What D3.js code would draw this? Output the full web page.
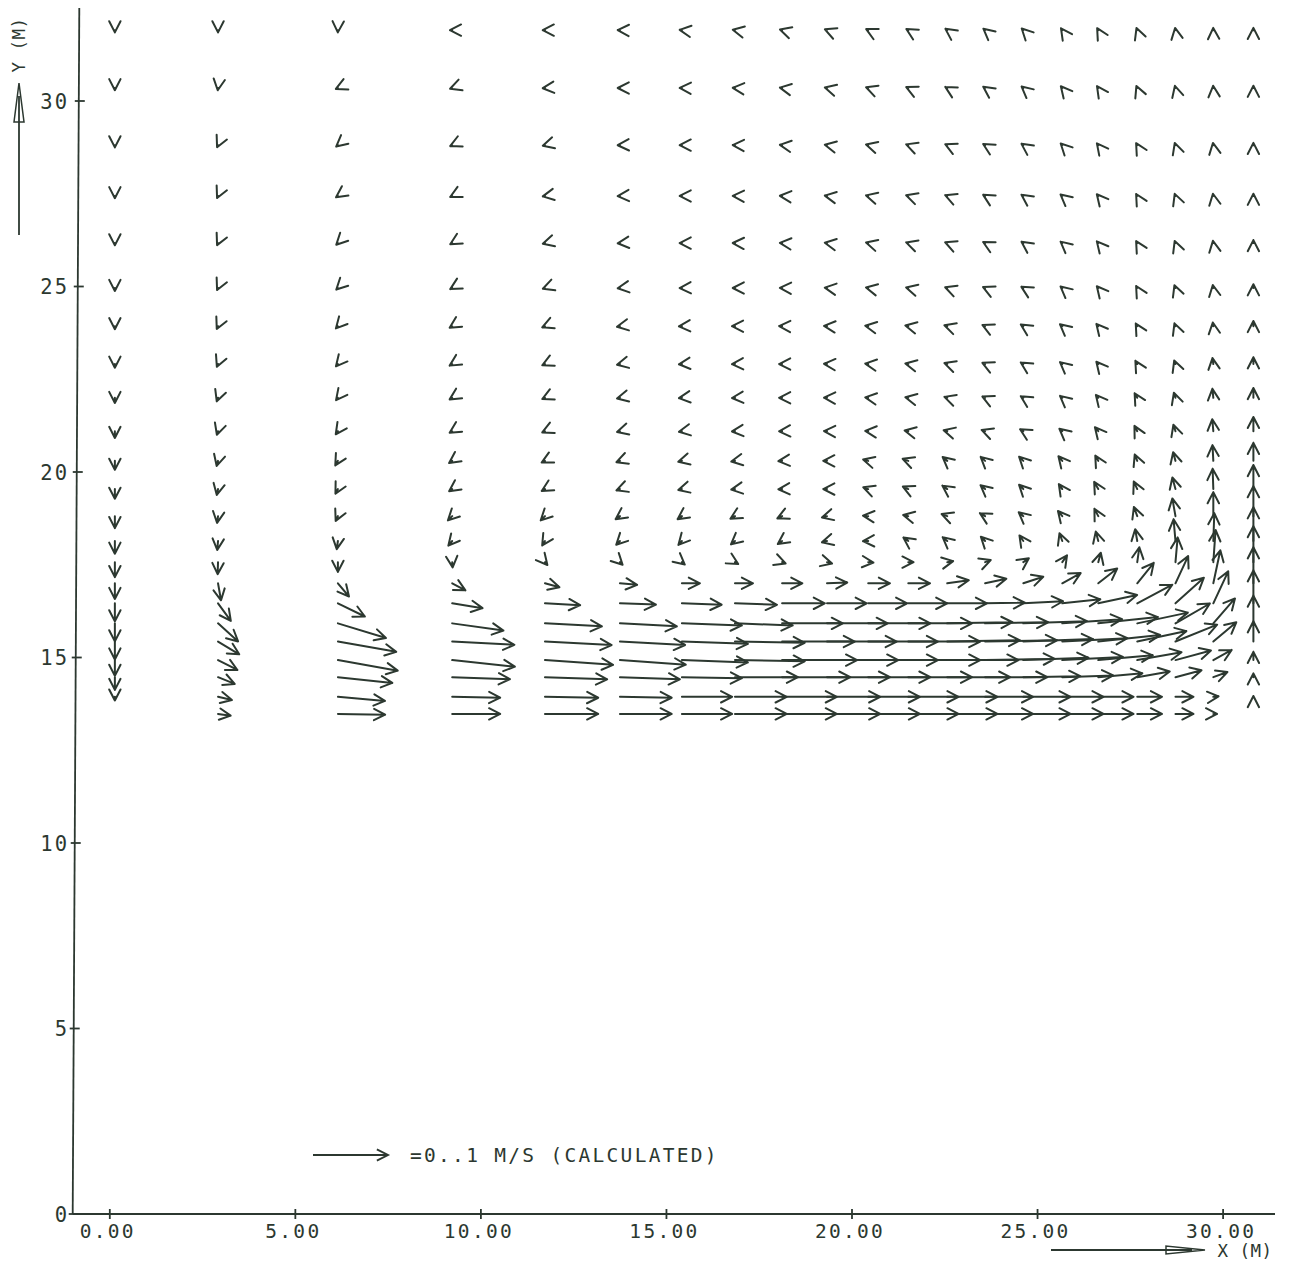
<!DOCTYPE html>
<html><head><meta charset="utf-8">
<script src="https://cdn.jsdelivr.net/npm/d3@7"></script>
<style>body{margin:0;background:#fff} svg{display:block}</style>
</head><body>
<svg id="chart" width="1290" height="1264"></svg>
<script>
// ---------- data ----------
const xTicks = [0, 5, 10, 15, 20, 25, 30];
const xTickLabels = ["0.00", "5.00", "10.00", "15.00", "20.00", "25.00", "30.00"];
const yTicks = [0, 5, 10, 15, 20, 25, 30];
const yTickLabels = ["0", "5", "10", "15", "20", "25", "30"];

// grid columns (m) and rows (m, top to bottom)
const xCols = [0.15, 2.93, 6.16, 9.24, 11.74, 13.76, 15.43, 16.86, 18.13, 19.34, 20.45,
               21.53, 22.58, 23.60, 24.63, 25.68, 26.65, 27.70, 28.73, 29.75, 30.83];
const yRows = [31.91, 30.35, 28.81, 27.44, 26.17, 24.96, 23.93, 22.91, 22.00, 21.10, 20.30,
               19.54, 18.81, 18.14, 17.57, 17.00, 16.46, 15.92, 15.43, 14.93, 14.47, 13.94, 13.48];

// flow direction (degrees, counter-clockwise from +x), one row per yRows entry
const direction = [
 [270,270,268,180,180,178,172,168,163,158,153,150,145,140,135,125,120,110,100, 92, 90],
 [270,262,205,200,185,180,178,175,170,165,160,155,150,145,140,130,125,112,105, 95, 90],
 [270,245,220,205,195,182,180,178,172,168,165,160,155,150,145,135,128,120,108,100, 90],
 [270,245,215,207,190,183,180,178,175,170,165,162,158,150,145,140,130,120,110,100, 90],
 [270,245,225,210,195,185,180,178,175,170,165,162,158,152,145,140,130,120,110,100, 90],
 [270,245,225,210,200,188,182,180,178,172,168,165,160,155,150,140,130,120,110,100, 90],
 [270,245,228,212,203,190,183,180,178,175,170,168,162,155,148,140,130,120,110, 98, 90],
 [270,247,230,212,205,192,185,182,180,176,172,168,162,155,148,140,130,120,110, 98, 90],
 [270,250,232,212,205,193,187,184,180,178,172,168,162,155,148,140,130,120,108, 96, 90],
 [270,252,235,212,205,195,190,185,182,178,175,168,165,160,150,140,130,118,108, 95, 90],
 [270,255,240,215,207,200,195,190,185,180,165,160,140,138,135,130,120,112,105, 93, 90],
 [270,258,242,215,210,200,195,188,183,180,160,155,145,140,135,125,120,115,105, 92, 90],
 [270,262,245,225,225,215,215,210,205,195,175,168,160,150,140,130,118,110,100, 90, 90],
 [270,265,262,230,238,225,228,220,215,195,182,145,140,135,125,110,105,100, 95, 88, 90],
 [270,268,270,275,310,315,320,330,340,345,355,  0, 10, 20, 35, 55, 75, 82, 85, 86, 90],
 [270,280,310,332,345,355,  0,  0,  0,  2,  0,  0,  8, 12, 18, 29, 38, 51, 65, 78, 90],
 [270,306,334,351,357,358,358,358,  0,  0,  0,  0,  0,  1,  3,  6, 12, 28, 42, 65, 90],
 [270,318,343,352,357,357,358,358,  0,  0,  0,  0,  1,  1,  2,  4,  6, 12, 30, 49, 90],
 [270,329,350,357,357,357,358,359,  0,  0,  0,  0,  1,  1,  2,  3,  6, 12, 22, 40, 90],
 [270,333,350,354,356,356,358,359,  0,  0,  0,  0,  0,  1,  2,  3,  5, 10, 15, 29, 90],
 [270,338,354,358,358,358,359,  0,  0,  0,  0,  0,  0,  0,  1,  2,  5, 10, 15, 20, 90],
 [270,347,355,359,359,359,  0,  0,  0,  0,  0,  0,  0,  0,  0,  0,  0,  0,  0,  5, 90],
 [null,352,359, 0,  0,  0,  0,  0,  0,  0,  0,  0,  0,  0,  0,  0,  0,  0,  0,  0, null]
];

// speed (m/s), same layout
const speed = [
 [.003,.003,.003,.003,.003,.003,.003,.003,.003,.003,.003,.003,.003,.003,.003,.003,.003,.003,.003,.003,.003],
 [.003,.003,.003,.003,.003,.003,.003,.003,.003,.003,.003,.003,.003,.003,.003,.003,.003,.003,.003,.003,.003],
 [.003,.003,.003,.003,.003,.003,.003,.003,.003,.003,.003,.003,.003,.003,.003,.003,.003,.003,.003,.003,.003],
 [.003,.003,.003,.003,.003,.003,.003,.003,.003,.003,.003,.003,.003,.003,.003,.003,.003,.003,.003,.003,.003],
 [.003,.003,.003,.003,.003,.003,.003,.003,.003,.003,.003,.003,.003,.003,.003,.003,.003,.003,.003,.003,.004],
 [.004,.003,.003,.003,.003,.003,.003,.003,.003,.003,.003,.003,.003,.003,.003,.003,.003,.003,.004,.004,.005],
 [.004,.004,.004,.004,.004,.004,.004,.004,.004,.004,.004,.004,.004,.004,.004,.004,.004,.004,.004,.005,.007],
 [.005,.004,.004,.004,.004,.004,.004,.004,.004,.004,.004,.004,.004,.004,.004,.004,.004,.005,.005,.008,.009],
 [.007,.005,.004,.004,.004,.004,.004,.004,.004,.004,.004,.004,.004,.004,.004,.004,.005,.007,.007,.012,.013],
 [.009,.005,.005,.004,.004,.004,.004,.004,.004,.004,.004,.005,.005,.005,.005,.005,.007,.008,.009,.016,.019],
 [.012,.007,.007,.005,.005,.005,.005,.005,.005,.005,.007,.008,.008,.008,.008,.008,.008,.009,.012,.021,.024],
 [.013,.008,.007,.005,.005,.005,.005,.005,.005,.005,.007,.008,.008,.008,.008,.008,.011,.011,.016,.027,.032],
 [.016,.009,.007,.008,.008,.007,.007,.007,.007,.007,.007,.007,.008,.008,.008,.009,.011,.013,.024,.032,.040],
 [.017,.012,.011,.008,.007,.007,.007,.007,.007,.007,.007,.008,.008,.008,.009,.011,.013,.016,.029,.037,.045],
 [.020,.016,.013,.007,.005,.005,.005,.005,.005,.007,.007,.007,.008,.008,.009,.011,.013,.020,.033,.043,.048],
 [.021,.023,.023,.020,.020,.023,.024,.024,.027,.027,.029,.029,.029,.029,.028,.028,.032,.035,.040,.045,.048],
 [.024,.029,.040,.041,.047,.048,.053,.056,.057,.053,.052,.052,.053,.053,.053,.051,.053,.053,.051,.047,.044],
 [.024,.036,.067,.069,.076,.076,.080,.077,.081,.081,.083,.085,.087,.084,.085,.080,.080,.069,.053,.044,.037],
 [.024,.033,.079,.083,.089,.087,.088,.093,.097,.093,.093,.096,.097,.096,.093,.087,.083,.067,.060,.040,.027],
 [.021,.029,.081,.084,.091,.088,.088,.093,.100,.095,.093,.096,.095,.093,.087,.081,.073,.060,.049,.028,.011],
 [.017,.024,.073,.077,.083,.080,.080,.084,.091,.084,.083,.085,.084,.083,.076,.068,.059,.044,.036,.020,.005],
 [.005,.019,.063,.064,.071,.069,.067,.069,.073,.071,.069,.067,.067,.064,.063,.055,.047,.033,.024,.007,.001],
 [null,.017,.063,.064,.071,.069,.067,.069,.073,.071,.069,.067,.067,.064,.063,.055,.047,.033,.024,.005,null]
];

const refSpeed = 0.1;
const legendText = "=0..1 M/S (CALCULATED)";
const xAxisTitle = "X (M)";
const yAxisTitle = "Y (M)";

// ---------- drawing ----------
const svg = d3.select("#chart");
const INK = "#2c3830";
const FONT = "'DejaVu Sans Mono', monospace";

const x = d3.scaleLinear().domain([0, 30]).range([109.3, 1222.6]);
const y = d3.scaleLinear().domain([0, 30]).range([1214, 101]);
const len = d3.scaleLinear().domain([0, refSpeed]).range([0, 75]);

const HEAD = 12.5, HALF = 27 * Math.PI / 180;
function arrowPath(x0, y0, L, deg) {
  const t = deg * Math.PI / 180;
  const x1 = x0 + L * Math.cos(t), y1 = y0 - L * Math.sin(t);
  const b1 = t + Math.PI - HALF, b2 = t + Math.PI + HALF;
  const p1 = [x1 + HEAD * Math.cos(b1), y1 - HEAD * Math.sin(b1)];
  const p2 = [x1 + HEAD * Math.cos(b2), y1 - HEAD * Math.sin(b2)];
  return `M${x0},${y0}L${x1},${y1}M${p1[0]},${p1[1]}L${x1},${y1}L${p2[0]},${p2[1]}`;
}

// axes lines
const axisG = svg.append("g").attr("stroke", INK).attr("stroke-width", 1.8).attr("fill", "none");
// y axis (slightly tilted like the scan)
const yAxX = yy => 79.3 - 6.6 * (yy - 8) / 1206;
axisG.append("line").attr("x1", yAxX(8)).attr("y1", 8).attr("x2", yAxX(1214)).attr("y2", 1214);
axisG.append("line").attr("x1", 72.7).attr("y1", 1214).attr("x2", 1275).attr("y2", 1214);

// x ticks via d3 axis
const xAxis = d3.axisBottom(x).tickValues(xTicks).tickFormat((d, i) => xTickLabels[i]).tickSize(0);
const gx = svg.append("g").attr("transform", "translate(0,1214)").call(xAxis);
gx.select(".domain").remove();
gx.selectAll(".tick").append("line").attr("y1", -5).attr("y2", 5).attr("stroke", INK).attr("stroke-width", 1.8);
gx.selectAll(".tick text").attr("y", 24).attr("dx", -2).attr("dy", 0)
  .attr("font-family", FONT).attr("font-size", 19.5).attr("letter-spacing", 2.3)
  .attr("fill", INK).attr("dominant-baseline", "alphabetic");

// y ticks
const gy = svg.append("g");
yTicks.forEach((v, i) => {
  const yy = y(v);
  const ax = yAxX(yy);
  gy.append("line").attr("x1", ax - 4).attr("x2", ax + 6).attr("y1", yy).attr("y2", yy)
    .attr("stroke", INK).attr("stroke-width", 1.8);
  gy.append("text").attr("x", 69).attr("y", yy + 7.5).attr("text-anchor", "end")
    .attr("font-family", FONT).attr("font-size", 20.5).attr("letter-spacing", 2)
    .attr("fill", INK).text(yTickLabels[i]);
});

// axis titles with arrows
svg.append("line").attr("x1", 19).attr("y1", 235).attr("x2", 19).attr("y2", 96)
  .attr("stroke", INK).attr("stroke-width", 1.8);
svg.append("path").attr("d", "M19,83L24,122L14,122Z").attr("fill", "none")
  .attr("stroke", INK).attr("stroke-width", 1.5);
svg.append("text").attr("transform", "translate(25,45) rotate(-90)").attr("text-anchor", "middle")
  .attr("font-family", FONT).attr("font-size", 17.5).attr("letter-spacing", 0.5)
  .attr("fill", INK).text(yAxisTitle);

svg.append("line").attr("x1", 1051).attr("y1", 1250).attr("x2", 1192).attr("y2", 1250)
  .attr("stroke", INK).attr("stroke-width", 1.8);
svg.append("path").attr("d", "M1205,1250L1166,1254L1166,1246Z").attr("fill", "none")
  .attr("stroke", INK).attr("stroke-width", 1.5);
svg.append("text").attr("x", 1245).attr("y", 1257).attr("text-anchor", "middle")
  .attr("font-family", FONT).attr("font-size", 17.5).attr("letter-spacing", 0.5)
  .attr("fill", INK).text(xAxisTitle);

// legend
svg.append("path").attr("d", arrowPath(313, 1155, len(refSpeed), 0))
  .attr("stroke", INK).attr("stroke-width", 1.9).attr("fill", "none");
svg.append("text").attr("x", 410).attr("y", 1162)
  .attr("font-family", FONT).attr("font-size", 19.5).attr("letter-spacing", 2.3)
  .attr("fill", INK).text(legendText);

// vectors
const vecs = [];
yRows.forEach((yv, r) => {
  xCols.forEach((xv, c) => {
    const s = speed[r][c], d = direction[r][c];
    if (s == null || d == null) return;
    vecs.push({ xv, yv, s, d });
  });
});
svg.append("g").selectAll("path").data(vecs).join("path")
  .attr("d", v => arrowPath(x(v.xv), y(v.yv), len(v.s), v.d))
  .attr("fill", "none").attr("stroke", INK).attr("stroke-width", 2)
  .attr("stroke-linecap", "round").attr("stroke-linejoin", "round");
</script>
</body></html>
